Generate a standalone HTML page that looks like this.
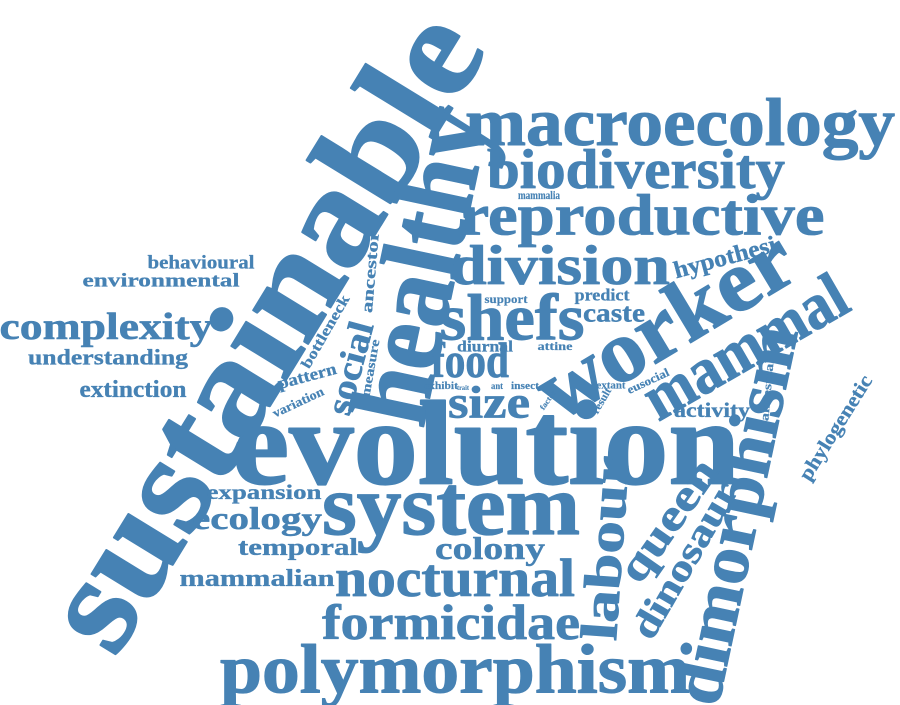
<!DOCTYPE html>
<html><head><meta charset="utf-8"><style>
html,body{margin:0;padding:0;background:#fff;}
svg{display:block}
text{font-family:"Liberation Serif",serif;font-weight:bold;fill:#4682b4;stroke:#4682b4;stroke-linejoin:round;text-anchor:middle;dominant-baseline:central;}
</style></head><body>
<svg id="cloud" width="900" height="705" viewBox="0 0 900 705"></svg>
<script>
const words = ["sustainable","healthy","macroecology","biodiversity","reproductive","division","shefs","food","size","worker","mammal","evolution","system","dimorphism","labour","queen","dinosaur","colony","nocturnal","formicidae","polymorphism","hypothesi","predict","caste","support","diurnal","attine","exhibit","trait","ant","insect","extant","eusocial","result","factor","activity","ancestral","phylogenetic","ancestor","bottleneck","social","measure","pattern","variation","behavioural","environmental","complexity","understanding","extinction","expansion","ecology","temporal","mammalian","mammalia"];
const weights = [140,110,68,56,58,56,66,50,46,88,66,120,86,70,52,44,38,32,54,50,70,24,17,26,12,16,12,11,7,9,11,10,12,11,8,21,12,20,16,15,36,13,17,13,19,19,38,22,24,21,32,24,24,12];
const layout = [
[262,330,715,-58.5],[420,265,320,-78],[680,122,430,0],[636,170,298,0],[642,215,365,0],[560,266,220,0],[512,318,145,0],[470,360,78,0],[489,402,82,0],[665,325,285,-31],[745,347,225,-30],[486,443,508,0],[451,505,258,0],[736,515,385,-78],[606,548,185,-86],[668,520,140,-55],[685,560,175,-60],[490,548,110,0],[455,578,240,0],[451,622,258,0],[455,670,470,0],[725,258,105,-15],[602,295,55,0],[614,313,62,0],[506,299,43,0],[485,347,56,0],[555,346,35,0],[441,386,34,0],[463,388,12,0],[497,386,12,0],[525,386,28,0],[611,386,29,0],[648,381,45,-25],[602,401,28,-60],[548,400,22,-55],[712,410,76,0],[767,390,62,-85],[836,428,120,-58],[371,272,82,-85],[326,332,82,-60],[350,368,95,-75],[370,368,58,-80],[307,376,60,-15],[298,402,55,-25],[201,263,107,0],[161,281,157,0],[106,327,213,0],[108,357,160,0],[133,390,107,0],[264,492,115,0],[257,518,130,0],[298,548,120,0],[257,579,155,0],[539,195,42,0]];
const svg = document.getElementById('cloud');
words.forEach((w,i)=>{
  const [x,y,len,rot] = layout[i];
  const t = document.createElementNS('http://www.w3.org/2000/svg','text');
  
  
  t.setAttribute('x', x);
  t.setAttribute('y', y);
  t.setAttribute('font-size', weights[i]);
  t.setAttribute('stroke-width', (weights[i] * 0.015).toFixed(2));
  t.setAttribute('textLength', len);
  t.setAttribute('lengthAdjust', 'spacingAndGlyphs');
  t.setAttribute('transform', 'rotate(' + rot + ' ' + x + ' ' + y + ')');
  t.textContent = w;
  svg.appendChild(t);
});
</script>
</body></html>
